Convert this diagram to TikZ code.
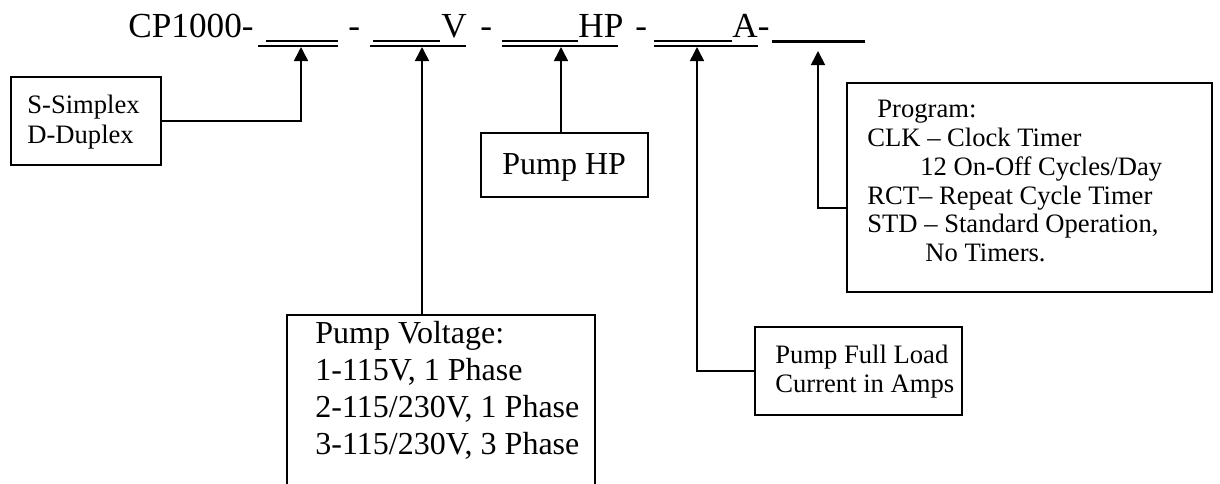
\documentclass[tikz,border=0pt]{standalone}
\usepackage{fontspec}
\setmainfont{Liberation Serif}
\usetikzlibrary{arrows.meta}

\begin{document}
\begin{tikzpicture}[x=0.5pt,y=-0.5pt]
            \useasboundingbox (0,0) rectangle (1220,483);
            \tikzstyle{rowtitle} = [anchor=base west,inner sep=0pt,font=\fontsize{17.6}{20}\selectfont]
            \tikzstyle{rowbig} = [anchor=base west,inner sep=0pt,font=\fontsize{16}{18}\selectfont]
            \tikzstyle{rowsmall} = [anchor=base west,inner sep=0pt,font=\fontsize{13.3}{15}\selectfont]
            \tikzstyle{optionbox} = [rectangle,draw,line width=0.65pt,inner sep=0pt]
            \tikzstyle{blankline} = [line width=0.6pt]
            \tikzstyle{pointer} = [line width=0.8pt,-{Triangle[width=7pt,length=7pt]}]
            % part number line
            \node[rowtitle] (title) at (128,37) {CP1000-};
            \node[rowtitle] (dash1) at (348,37) {-};
            \node[rowtitle] (volt) at (441,37) {V};
            \node[rowtitle] (dash2) at (480,37) {-};
            \node[rowtitle] (hpunit) at (578,37) {HP};
            \node[rowtitle] (dash3) at (635,37) {-};
            \node[rowtitle] (amps) at (732,37) {A-};
            \draw[blankline] (266,41) -- (338,41);
            \draw[blankline] (258,46) -- (338,46);
            \draw[blankline] (373,41) -- (440,41);
            \draw[blankline] (370,46) -- (466,46);
            \draw[blankline] (502,41) -- (578,41);
            \draw[blankline] (502,46) -- (618,46);
            \draw[blankline] (654,41) -- (732,41);
            \draw[blankline] (654,46) -- (758,46);
            \draw[line width=1.5pt] (772,41) -- (865,41);
            \coordinate (tip1) at (301,47);
            \coordinate (tip2) at (422,47);
            \coordinate (tip3) at (561,47);
            \coordinate (tip4) at (697,47);
            \coordinate (tip5) at (818,51);
            % boxes
            \node[optionbox,minimum width=75pt,minimum height=44pt] (simplex) at (86,121) {};
            \node[optionbox,minimum width=154pt,minimum height=102.5pt] (voltage) at (441,417.5) {};
            \node[optionbox,minimum width=83.5pt,minimum height=32pt] (hp) at (564.5,165) {};
            \node[optionbox,minimum width=103.5pt,minimum height=44pt] (fullload) at (858.5,371) {};
            \node[optionbox,minimum width=182.5pt,minimum height=104.5pt] (program) at (1029.5,187.5) {};
            % box texts
            \node[rowsmall] (simplex1) at (27,113) {S-Simplex};
            \node[rowsmall] (simplex2) at (27,143) {D-Duplex};
            \node[rowbig] (hp1) at (502,174) {Pump HP};
            \node[rowbig] (voltage1) at (315,343) {Pump Voltage:};
            \node[rowbig] (voltage2) at (315,380) {1-115V, 1 Phase};
            \node[rowbig] (voltage3) at (315,417) {2-115/230V, 1 Phase};
            \node[rowbig] (voltage4) at (315,454) {3-115/230V, 3 Phase};
            \node[rowsmall] (fullload1) at (775,363) {Pump Full Load};
            \node[rowsmall] (fullload2) at (775,392) {Current in Amps};
            \node[rowsmall] (program1) at (877,117) {Program:};
            \node[rowsmall] (program2) at (867,146) {CLK -- Clock Timer};
            \node[rowsmall] (program3) at (920,175) {12 On-Off Cycles/Day};
            \node[rowsmall] (program4) at (867,204) {RCT-- Repeat Cycle Timer};
            \node[rowsmall] (program5) at (867,232) {STD -- Standard Operation,};
            \node[rowsmall] (program6) at (925,261) {No Timers.};
            % connectors
            \draw[pointer] (simplex.east) -| (tip1);
            \draw[pointer] (tip2 |- voltage.north) -- (tip2);
            \draw[pointer] (tip3 |- hp.north) -- (tip3);
            \draw[pointer] (fullload.west) -| (tip4);
            \draw[pointer] ([yshift=-10.25pt]program.west) -| (tip5);
\end{tikzpicture}
\end{document}
